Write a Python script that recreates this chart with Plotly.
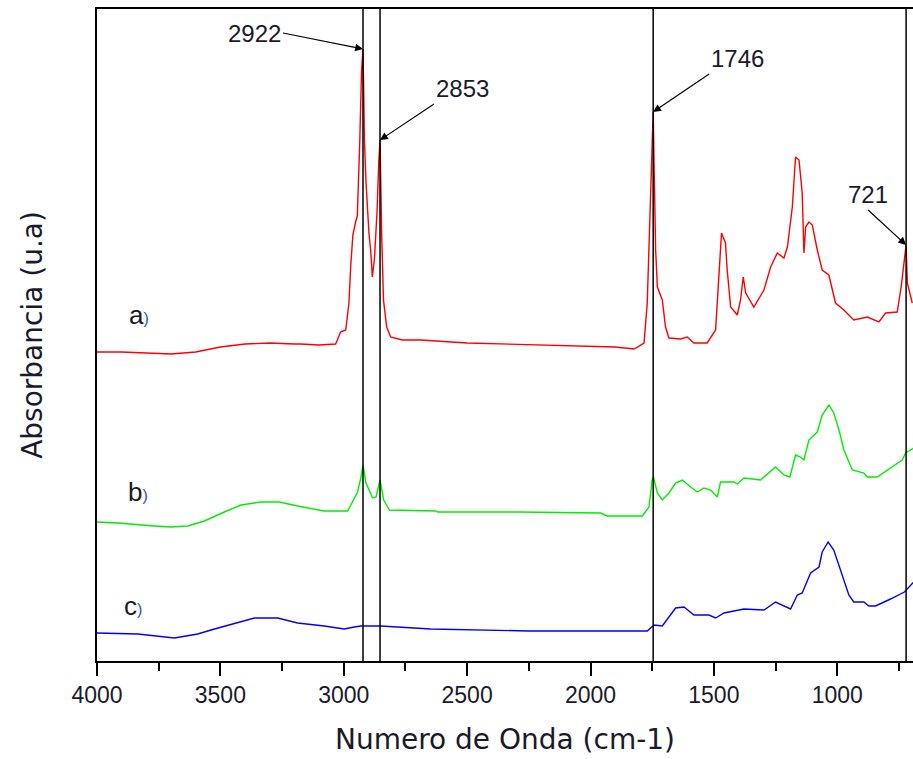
import plotly.graph_objects as go

# ---- data (wavenumber in cm-1, absorbance in arbitrary units) ----
wn_a = [4000, 3900, 3800, 3700, 3600, 3500, 3400, 3300, 3200, 3175, 3100, 3033, 3026, 3013, 2992,
        2979, 2972, 2963, 2952, 2945, 2935, 2928, 2922, 2916, 2910, 2903, 2898, 2891, 2884, 2875,
        2865, 2858, 2853, 2846, 2839, 2826, 2810, 2763, 2688, 2500, 2200, 2000, 1900, 1823, 1783,
        1770, 1760, 1753, 1746, 1743, 1736, 1729, 1709, 1696, 1682, 1635, 1608, 1581, 1527, 1493,
        1480, 1469, 1453, 1446, 1432, 1405, 1392, 1381, 1371, 1338, 1297, 1270, 1243, 1216, 1202,
        1182, 1169, 1155, 1142, 1135, 1128, 1115, 1101, 1081, 1061, 1034, 1007, 973, 933, 878,
        831, 804, 757, 741, 721, 716, 696]
abs_a = [309, 309, 308, 307, 309, 314, 317, 318, 317, 317, 316, 317, 321, 329, 331,
         358, 394, 426, 439, 445, 520, 590, 612, 520, 480, 440, 428, 411, 384, 404,
         450, 500, 521, 424, 361, 334, 324, 321, 321, 318, 316, 314, 314, 312, 318,
         358, 430, 500, 549, 506, 411, 374, 361, 334, 323, 322, 324, 318, 318, 331,
         388, 428, 418, 391, 354, 346, 361, 384, 368, 354, 371, 394, 408, 403, 414,
         454, 504, 501, 468, 408, 434, 439, 436, 411, 391, 386, 358, 351, 341, 344,
         339, 348, 349, 374, 416, 378, 358]

wn_b = [4000, 3916, 3767, 3700, 3632, 3565, 3484, 3416, 3335, 3261, 3187, 3079, 2984, 2964, 2944,
        2930, 2922, 2910, 2883, 2869, 2853, 2838, 2815, 2628, 2620, 2295, 1959, 1932, 1790, 1763,
        1750, 1745, 1729, 1709, 1682, 1655, 1628, 1594, 1567, 1540, 1513, 1486, 1473, 1419, 1405,
        1378, 1311, 1250, 1216, 1192, 1169, 1149, 1135, 1115, 1081, 1061, 1034, 1014, 993, 973,
        939, 892, 878, 838, 784, 737, 723, 690]
abs_b = [139, 138, 135, 134, 135, 140, 149, 156, 159, 159, 155, 150, 150, 159, 169,
         184, 196, 178, 163, 164, 181, 161, 151, 150, 149, 149, 148, 145, 145, 154,
         181, 184, 168, 161, 168, 178, 181, 174, 169, 173, 171, 164, 179, 179, 177,
         183, 181, 194, 186, 184, 206, 204, 201, 221, 229, 246, 256, 248, 231, 211,
         191, 188, 184, 184, 193, 201, 208, 213]

wn_c = [4000, 3835, 3686, 3592, 3524, 3430, 3362, 3268, 3187, 3079, 2998, 2957, 2931, 2850, 2781,
        2648, 2249, 1898, 1770, 1743, 1709, 1655, 1621, 1581, 1554, 1520, 1493, 1459, 1378, 1297,
        1250, 1189, 1162, 1142, 1108, 1074, 1061, 1037, 1014, 987, 953, 933, 892, 872, 845,
        784, 728, 690]
abs_c = [28, 27, 23, 27, 32, 38, 43, 43, 38, 35, 32, 34, 35, 35, 34,
         32, 30, 30, 30, 36, 35, 53, 54, 46, 46, 46, 43, 48, 52, 51,
         59, 52, 66, 68, 88, 94, 109, 119, 111, 91, 66, 59, 59, 55, 55,
         62, 69, 79]

peak_marks = [2922, 2853, 1746, 721]
peak_heights = [612, 521, 549, 416]
series_labels = ["a", "b", "c"]
label_pos_wn = [3830, 3835, 3855]
label_pos_abs = [346, 169, 55]

x_range = [4000, 693]
y_range = [0, 652]

fig = go.Figure()
for wn, ab, col in [(wn_a, abs_a, "#ff0000"), (wn_b, abs_b, "#00ee00"), (wn_c, abs_c, "#0000ff")]:
    fig.add_trace(go.Scatter(x=wn, y=ab, mode="lines", line=dict(color=col, width=1.4),
                             showlegend=False, hoverinfo="skip"))

for p in peak_marks:
    fig.add_shape(type="line", x0=p, x1=p, y0=y_range[0], y1=y_range[1], xref="x", yref="y",
                  line=dict(color="black", width=1.5))

# peak annotations: (ax, ay offsets in px, xanchor, yanchor)
arrow_style = {2922: (-80, -16, "right", "middle"),
               2853: (54, -36, "left", "bottom"),
               1746: (56, -38, "left", "bottom"),
               721: (-38, -35, "center", "bottom")}
for p, h in zip(peak_marks, peak_heights):
    ax, ay, xa, ya = arrow_style[p]
    fig.add_annotation(x=p, y=h, text=str(p), showarrow=True, arrowhead=2, arrowsize=1.3,
                       arrowwidth=1.2, arrowcolor="black", ax=ax, ay=ay,
                       font=dict(family="Arial", size=24, color="#1a1a2a"),
                       xanchor=xa, yanchor=ya, standoff=0, startstandoff=0)

for lab, xw, yv in zip(series_labels, label_pos_wn, label_pos_abs):
    fig.add_annotation(x=xw, y=yv, text=lab + "<span style='font-size:16px;color:#3050c0'>)</span>",
                       showarrow=False, font=dict(family="Arial", size=26, color="#1a1a2a"),
                       xanchor="center", yanchor="middle")

fig.update_layout(
    width=913, height=759,
    margin=dict(l=97, r=0, t=9, b=98),
    paper_bgcolor="white", plot_bgcolor="white",
    font=dict(family="Arial", color="#1a1a2a"),
)
fig.update_xaxes(
    range=x_range, autorange=False,
    showline=True, linecolor="black", linewidth=1.5, mirror=True,
    ticks="outside", ticklen=13, tickwidth=1.5, tickcolor="black",
    tickvals=[4000, 3500, 3000, 2500, 2000, 1500, 1000],
    minor=dict(ticks="outside", ticklen=8, tickwidth=1.5, tickcolor="black",
               tickvals=[3750, 3250, 2750, 2250, 1750, 1250, 750]),
    tickfont=dict(family="Arial", size=23, color="#1a1a2a"),
    showgrid=False, zeroline=False,
    title=dict(text="Numero de Onda (cm-1)", font=dict(family="DejaVu Sans", size=28, color="#1a1a2a"), standoff=22),
    automargin=False,
)
fig.update_yaxes(
    range=y_range, autorange=False,
    showline=True, linecolor="black", linewidth=1.5, mirror=False,
    ticks="", showticklabels=False, showgrid=False, zeroline=False,
    title=dict(text="Absorbancia (u.a)", font=dict(family="DejaVu Sans", size=28, color="#1a1a2a"), standoff=44),
    automargin=False,
)

fig.write_html("out.html", config={"displayModeBar": False},
               post_script="document.body.style.margin='0';document.body.style.overflow='hidden';")
